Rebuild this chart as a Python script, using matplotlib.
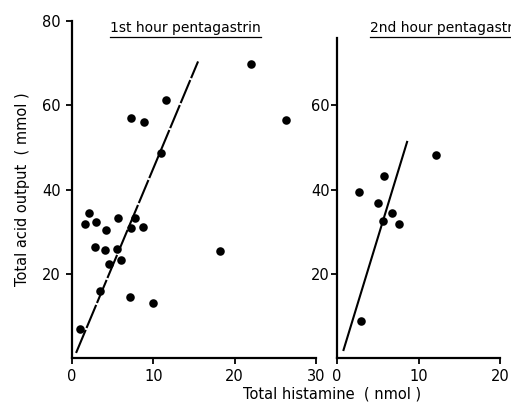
import matplotlib
matplotlib.use("Agg")
import matplotlib.pyplot as plt
from matplotlib.lines import Line2D

# 1st hour pentagastrin: histamine (nmol) vs acid output (mmol)
hist1 = [1.0, 1.6, 2.1, 3.0, 2.8, 4.2, 4.0, 3.4, 4.5, 5.6, 5.5, 6.0, 7.2, 7.8, 8.7,
         7.1, 9.9, 7.3, 8.8, 11.0, 11.6, 18.2, 22.0, 26.3]
acid1 = [6.9, 31.7, 34.4, 32.4, 26.3, 30.5, 25.7, 15.8, 22.4, 33.3, 25.8, 23.2, 30.8, 33.3, 31.2,
         14.5, 13.1, 56.9, 56.0, 48.7, 61.3, 25.3, 69.7, 56.5]
line1_x = [0.5, 15.5]
line1_y = [1.2, 70.4]

# 2nd hour pentagastrin
hist2 = [2.7, 3.0, 5.0, 5.8, 5.6, 6.7, 7.6, 12.2]
acid2 = [39.5, 8.7, 36.8, 43.3, 32.5, 34.4, 31.9, 48.2]
line2_x = [0.8, 8.6]
line2_y = [1.9, 51.3]

fig = plt.figure(figsize=(5.11, 4.05), dpi=100)
plt.rcParams['font.family'] = 'DejaVu Sans'

ax1 = fig.add_axes([72/511, 1-358/405, (316-72)/511, (358-21)/405])
ax2 = fig.add_axes([337/511, 1-358/405, (500-337)/511, (358-38)/405])

for ax in (ax1, ax2):
    for s in ('top', 'right'):
        ax.spines[s].set_visible(False)
    for s in ('left', 'bottom'):
        ax.spines[s].set_linewidth(1.6)
    ax.tick_params(width=1.3, length=4, labelsize=10.5)

ax1.scatter(hist1, acid1, s=38, c='black', zorder=3, linewidths=0)
ax1.plot(line1_x, line1_y, color='black', lw=1.5, dashes=(12, 1.0))
ax1.set_xlim(0, 30)
ax1.set_ylim(0, 80)
ax1.set_xticks([0, 10, 20, 30])
ax1.set_yticks([20, 40, 60, 80])
ax1.tick_params(axis='y', pad=4)
ax1.tick_params(axis='x', pad=4)
ax1.set_ylabel('Total acid output  ( mmol )', fontsize=10.5, labelpad=9)

ax2.scatter(hist2, acid2, s=38, c='black', zorder=3, linewidths=0)
ax2.plot(line2_x, line2_y, color='black', lw=1.5)
ax2.set_xlim(0, 20)
ax2.set_ylim(0, 80*(358-38)/(358-21))
ax2.set_xticks([0, 10, 20])
ax2.set_yticks([20, 40, 60])
ax2.tick_params(axis='y', pad=1)
ax2.tick_params(axis='x', pad=4)

fig.text(332/511, 1-394/405, 'Total histamine  ( nmol )', fontsize=10.5,
         ha='center', va='center')

t1 = fig.text(110/511, 1-28/405, '1st hour pentagastrin', fontsize=10,
              ha='left', va='center')
t2 = fig.text(370/511, 1-28/405, '2nd hour pentagastrin', fontsize=10,
              ha='left', va='center')

# underline the titles
fig.canvas.draw()
r = fig.canvas.get_renderer()
for t in (t1, t2):
    bb = t.get_window_extent(r).transformed(fig.transFigure.inverted())
    yu = 1 - 37/405
    fig.add_artist(Line2D([bb.x0, bb.x1], [yu, yu], color='black', lw=0.9,
                          transform=fig.transFigure))

fig.savefig('out.png', dpi=100)
